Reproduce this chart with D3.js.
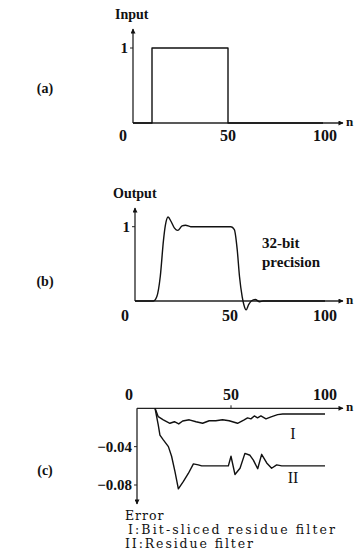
<!DOCTYPE html>
<html>
<head>
<meta charset="utf-8">
<script src="https://cdn.jsdelivr.net/npm/d3@7"></script>
<style>
  body { margin: 0; background: #fff; }
  text { font-family: "Liberation Serif", "DejaVu Serif", serif; fill: #111; }
  text.legend { font-family: "DejaVu Serif", serif; }
</style>
</head>
<body>
<div id="viz"></div>
<script>
var width = 360, height = 560;

// (a) input pulse
var inputN = [0, 10, 10, 50, 50, 100];
var inputV = [0, 0, 1, 1, 0, 0];

// (b) output, 32-bit precision
var outN = [0, 9.7, 11.5, 13.3, 15, 16, 17.4, 19, 20.8, 22.5, 24.8, 26.6, 29.3, 50.5, 52.3, 53.8, 55, 56.4, 57.3, 58.5, 59.8, 61.2, 63.3, 65.6, 67.4, 100];
var outV = [0, 0, 0.06, 0.33, 0.82, 1.02, 1.13, 1.07, 0.98, 0.95, 1.01, 1.02, 1.0, 1.0, 0.96, 0.69, 0.33, 0.06, -0.05, -0.12, -0.05, 0, 0.02, -0.01, 0, 0];

// (c) error curves
var errIN = [9.6, 11.3, 14, 17.5, 19.9, 22.2, 24.3, 27.8, 31.4, 34.9, 38.4, 41.9, 45.5, 49, 53.5, 57, 58.8, 60.6, 62.4, 64.1, 65.9, 68.6, 71.3, 74.8, 77.5, 81, 100];
var errI  = [0, -0.0087, -0.012, -0.0156, -0.014, -0.0163, -0.0132, -0.012, -0.014, -0.0156, -0.013, -0.013, -0.012, -0.013, -0.0156, -0.012, -0.010, -0.011, -0.008, -0.010, -0.008, -0.011, -0.009, -0.0066, -0.006, -0.006, -0.006];
var errIIN = [9.6, 11.3, 12.2, 14, 16.7, 18.4, 20.2, 22, 24.6, 27.3, 30, 32.6, 34.4, 37, 48.6, 50, 52.1, 54.8, 57.4, 60.1, 61.9, 64.2, 66.3, 69, 71.6, 74.3, 77, 100];
var errII  = [0, -0.0174, -0.028, -0.033, -0.040, -0.050, -0.066, -0.084, -0.0765, -0.068, -0.058, -0.059, -0.060, -0.060, -0.060, -0.050, -0.069, -0.0625, -0.047, -0.049, -0.054, -0.063, -0.048, -0.057, -0.0625, -0.059, -0.060, -0.060];

var xTicks = [0, 50, 100];

var svg = d3.select("#viz").append("svg")
    .attr("width", width)
    .attr("height", height);

var defs = svg.append("defs");
defs.append("marker")
    .attr("id", "arrow")
    .attr("viewBox", "0 0 10 10")
    .attr("refX", 9).attr("refY", 5)
    .attr("markerWidth", 7).attr("markerHeight", 5)
    .attr("markerUnits", "userSpaceOnUse")
    .attr("orient", "auto")
  .append("path")
    .attr("d", "M0,0L10,5L0,10Z")
    .style("fill", "#111");

function axisLine(x1, y1, x2, y2) {
  svg.append("line")
    .attr("x1", x1).attr("y1", y1)
    .attr("x2", x2).attr("y2", y2)
    .style("stroke", "#222")
    .style("stroke-width", 1.3)
    .attr("marker-end", "url(#arrow)");
}

function label(txt, x, y, anchor, size, weight) {
  return svg.append("text")
    .attr("x", x).attr("y", y)
    .attr("text-anchor", anchor || "start")
    .style("font-size", (size || 14) + "px")
    .style("font-weight", weight || "normal")
    .text(txt);
}

function curve(ns, vs, x, y, kind) {
  var line = d3.line()
      .x(function(d) { return x(d[0]); })
      .y(function(d) { return y(d[1]); })
      .curve(kind || d3.curveLinear);
  svg.append("path")
    .datum(d3.zip(ns, vs))
    .attr("d", line)
    .style("fill", "none")
    .style("stroke", "#111")
    .style("stroke-width", 1.4)
    .style("stroke-linejoin", "round");
}

function ytick(x0, yy, txt) {
  svg.append("line").attr("x1", x0 - 3).attr("x2", x0).attr("y1", yy).attr("y2", yy).style("stroke", "#222");
  label(txt, x0 - 5, yy + 5, "end", 15, "bold");
}

// ---- panel (a)
var xa = d3.scaleLinear().domain([0, 100]).range([133, 323]);
var ya = d3.scaleLinear().domain([0, 1]).range([123, 48]);
axisLine(xa(0), ya(0), xa(0), 29);
axisLine(xa(0), ya(0), 343, ya(0));
ytick(xa(0), ya(1), "1");
curve(inputN, inputV, xa, ya);
xTicks.forEach(function(t) {
  label(t, t === 0 ? xa(t) - 10 : xa(t) + (t === 100 ? 2 : 0), ya(0) + 18, "middle", 16, "bold");
});
label("n", 346, ya(0) + 3, "start", 13, "bold");
label("Input", 115, 19, "start", 14, "bold");
label("(a)", 45, 93, "middle", 14, "bold");

// ---- panel (b)
var xb = d3.scaleLinear().domain([0, 100]).range([135, 325]);
var yb = d3.scaleLinear().domain([0, 1]).range([301, 226.7]);
axisLine(xb(0), yb(0), xb(0), 208);
axisLine(xb(0), yb(0), 343, yb(0));
ytick(xb(0), yb(1), "1");
curve(outN, outV, xb, yb, d3.curveMonotoneX);
xTicks.forEach(function(t) {
  label(t, t === 0 ? xb(t) - 10 : xb(t), yb(0) + 20, "middle", 16, "bold");
});
label("n", 346, yb(0) + 3, "start", 13, "bold");
label("Output", 113, 198, "start", 14, "bold");
label("32-bit", 262, 248, "start", 15, "bold");
label("precision", 262, 267, "start", 15, "bold");
label("(b)", 45, 286, "middle", 14, "bold");

// ---- panel (c)
var xc = d3.scaleLinear().domain([0, 100]).range([137, 325]);
var yc = d3.scaleLinear().domain([0, -0.08]).range([408.3, 485]);
axisLine(xc(0), yc(0), xc(0), 504);
axisLine(xc(0), yc(0), 343, yc(0));
[-0.04, -0.08].forEach(function(t) {
  ytick(xc(0), yc(t), "\u2212" + Math.abs(t).toFixed(2));
});
svg.append("line").attr("x1", xc(50)).attr("x2", xc(50)).attr("y1", yc(0)).attr("y2", yc(0) - 3).style("stroke", "#222");
curve(errIN, errI, xc, yc);
curve(errIIN, errII, xc, yc);
xTicks.forEach(function(t) {
  label(t, t === 0 ? xc(t) - 8 : xc(t), yc(0) - 8, "middle", 16, "bold");
});
label("n", 346, yc(0) + 3, "start", 13, "bold");
label("I", 293, 439, "middle", 16);
label("II", 293, 483, "middle", 16);
label("(c)", 45, 475, "middle", 14, "bold");
label("Error", 125, 520, "start", 12.5).attr("class", "legend").style("letter-spacing", "1px");
label("I:Bit-sliced residue filter", 128, 534, "start", 12.5).attr("class", "legend")
  .attr("textLength", 207).attr("lengthAdjust", "spacing");
label("II:Residue filter", 125, 548, "start", 12.5).attr("class", "legend")
  .attr("textLength", 128).attr("lengthAdjust", "spacing");
</script>
</body>
</html>
